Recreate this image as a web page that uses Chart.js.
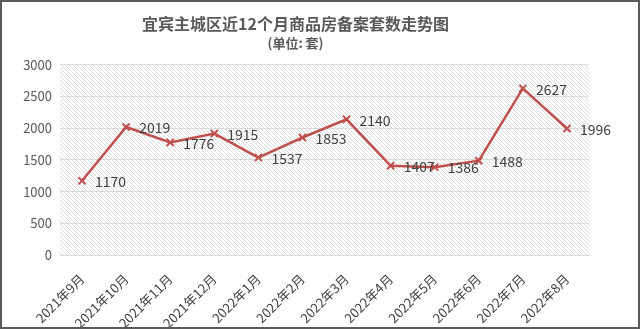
<!DOCTYPE html>
<html>
<head>
<meta charset="utf-8">
<script src="https://cdn.jsdelivr.net/npm/chart.js@4"></script>
<style>
  html, body { margin: 0; padding: 0; background: #fff; }
  #wrap { width: 640px; height: 329px; box-sizing: border-box; border: 2px solid #595959; position: relative; }
</style>
</head>
<body>
<div id="wrap"><canvas id="c"></canvas></div>
<script>
const months = ['2021年9月', '2021年10月', '2021年11月', '2021年12月', '2022年1月', '2022年2月',
                '2022年3月', '2022年4月', '2022年5月', '2022年6月', '2022年7月', '2022年8月'];
const sales = [1170, 2019, 1776, 1915, 1537, 1853, 2140, 1407, 1386, 1488, 2627, 1996];
const yTicks = [0, 500, 1000, 1500, 2000, 2500, 3000];

const FONT = '"Microsoft YaHei", "Noto Sans CJK SC", sans-serif';

function makeHatch() {
    const p = document.createElement('canvas');
    p.width = 4; p.height = 4;
    const g = p.getContext('2d');
    g.fillStyle = '#ffffff';
    g.fillRect(0, 0, 4, 4);
    g.strokeStyle = '#dedede';
    g.lineWidth = 1;
    g.beginPath();
    g.moveTo(0, 0); g.lineTo(4, 4);
    g.moveTo(-1, 3); g.lineTo(1, 5);
    g.moveTo(3, -1); g.lineTo(5, 1);
    g.stroke();
    return g.createPattern(p, 'repeat');
}

const hatchBg = {
    id: 'hatchBg',
    beforeDraw(chart) {
        const a = chart.chartArea;
        const ctx = chart.ctx;
        ctx.save();
        ctx.fillStyle = makeHatch();
        ctx.fillRect(a.left, a.top, a.right - a.left, a.bottom - a.top);
        ctx.restore();
    }
};

const valueLabels = {
    id: 'valueLabels',
    afterDatasetsDraw(chart) {
        const ctx = chart.ctx;
        const meta = chart.getDatasetMeta(0);
        ctx.save();
        ctx.font = '14px ' + FONT;
        ctx.fillStyle = '#404040';
        ctx.textBaseline = 'middle';
        ctx.textAlign = 'left';
        meta.data.forEach((pt, i) => {
            ctx.fillText(String(sales[i]), pt.x + 13, pt.y + 1);
        });
        ctx.restore();
    }
};

new Chart(document.getElementById('c'), {
    type: 'line',
    data: {
        labels: months,
        datasets: [{
            data: sales,
            borderColor: '#C0504D',
            backgroundColor: '#C0504D',
            borderWidth: 2.5,
            pointStyle: 'crossRot',
            pointRadius: 5,
            pointBorderWidth: 2,
            pointBorderColor: '#C0504D',
            tension: 0
        }]
    },
    options: {
        responsive: true,
        maintainAspectRatio: false,
        animation: false,
        layout: { padding: { left: 0, right: 49, top: 8, bottom: 0 } },
        plugins: {
            legend: { display: false },
            tooltip: { enabled: false },
            title: {
                display: true,
                text: '宜宾主城区近12个月商品房备案套数走势图',
                color: '#595959',
                font: { size: 16, weight: 'bold', family: FONT },
                padding: { top: 4, bottom: 2 }
            },
            subtitle: {
                display: true,
                text: '(单位: 套)',
                color: '#595959',
                font: { size: 13, weight: 'bold', family: FONT },
                padding: { bottom: 14 }
            }
        },
        scales: {
            x: {
                offset: true,
                grid: { display: false },
                border: { color: '#d9d9d9', width: 1 },
                afterFit(scale) { scale.height = 72; scale.paddingLeft = 0; },
                ticks: {
                    color: '#404040',
                    font: { size: 13, family: FONT },
                    padding: 8,
                    maxRotation: 45,
                    minRotation: 45,
                    autoSkip: false
                }
            },
            y: {
                min: 0,
                max: 3000,
                afterBuildTicks(scale) {
                    scale.ticks = yTicks.map(v => ({ value: v }));
                },
                afterFit(scale) { scale.width = 58; },
                grid: { color: '#d9d9d9', drawTicks: false },
                border: { display: false },
                ticks: {
                    color: '#595959',
                    font: { size: 13, family: FONT },
                    padding: 8,
                    callback: v => String(v)
                }
            }
        }
    },
    plugins: [hatchBg, valueLabels]
});
</script>
</body>
</html>
